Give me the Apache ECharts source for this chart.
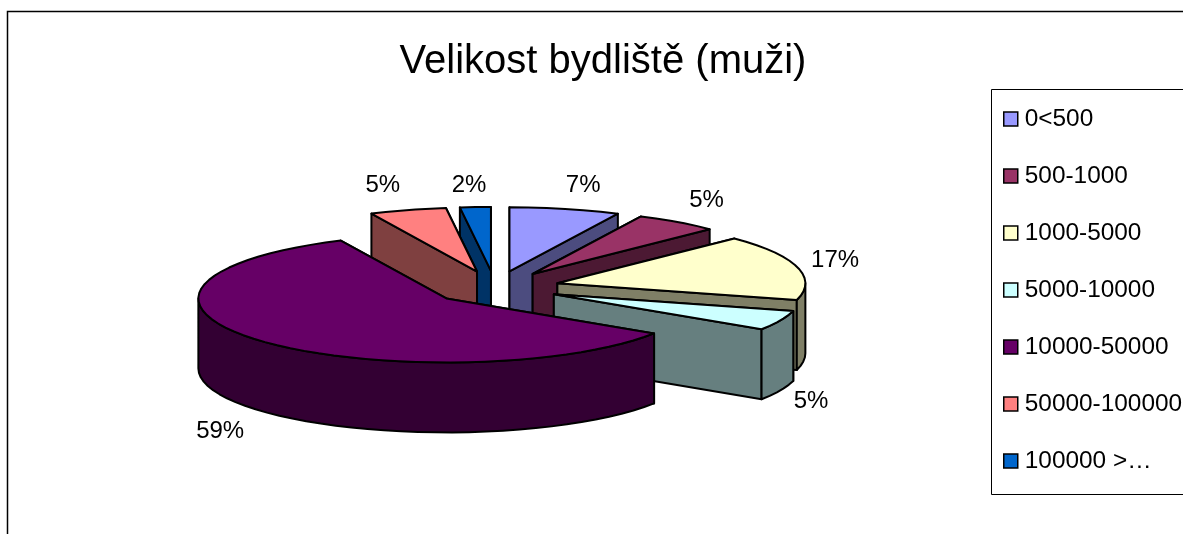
<!DOCTYPE html>
<html><head><meta charset="utf-8">
<style>html,body{margin:0;padding:0;background:#fff;overflow:hidden}#c{width:1183px;height:534px}</style>
<script src="https://cdn.jsdelivr.net/npm/echarts@6/dist/echarts.min.js"></script>
</head><body><div id="c"></div>
<script>
const categories = ['0<500','500-1000','1000-5000','5000-10000','10000-50000','50000-100000','100000 >…'];
const values = [7.2,5.45,16.55,5,58.8,5,2];
const topColors = ['#9999FF','#993366','#FFFFCC','#CCFFFF','#660066','#FF8080','#0066CC'];
const sideColors = ['#4C4C7F','#4C1933','#7F7F66','#667F7F','#330033','#7F4040','#003366'];
const titleText = 'Velikost bydliště (muži)';

const FONT = '"Liberation Sans", Arial, sans-serif';
const CX = 495, CY = 287.5, RX = 248, RY = 64, THICK = 70, EXPLODE = 0.26;
const LABEL_SHIFT = [[2,3],[0,0],[-5,0],[-10,0],[-4,3],[-7,1],[4,5]];
const total = values.reduce((a, b) => a + b, 0);
const starts = values.map((v, i) => values.slice(0, i).reduce((a, b) => a + b, 0));
const rad = d => d * Math.PI / 180;

function renderSlice(params, api) {
  const i = params.seriesIndex;
  const v = api.value(0);
  const a0 = starts[i] / total * 360, a1 = a0 + v / total * 360, mid = (a0 + a1) / 2;
  const ax = CX + EXPLODE * RX * Math.sin(rad(mid));
  const ay = CY - EXPLODE * RY * Math.cos(rad(mid));
  const pt = a => [ax + RX * Math.sin(rad(a)), ay - RY * Math.cos(rad(a))];
  const arc = (from, to) => {
    const out = [], n = Math.max(1, Math.round((to - from) / 4));
    for (let k = 0; k <= n; k++) out.push(pt(from + (to - from) * k / n));
    return out;
  };
  const down = p => [p[0], p[1] + THICK];
  const line = { stroke: '#000', lineWidth: 2, lineJoin: 'round' };
  const base = Math.round((-Math.cos(rad(mid)) + 1) * 100) * 10;
  const poly = (points, fill, z) => ({ type: 'polygon', z2: base + z, shape: { points }, style: Object.assign({ fill }, line), silent: true });
  const wall = a => [[ax, ay], pt(a), down(pt(a)), [ax, ay + THICK]];
  const pS = pt(a0), pE = pt(a1);
  const walls = pS[1] > pE[1] ? [a1, a0] : [a0, a1];
  const kids = [poly(wall(walls[0]), sideColors[i], 1), poly(wall(walls[1]), sideColors[i], 2)];
  const r0 = Math.max(a0, 90), r1 = Math.min(a1, 270);
  if (r1 > r0) {
    const rim = arc(r0, r1);
    kids.push(poly(rim.concat(rim.slice().reverse().map(down)), sideColors[i], 3));
  }
  kids.push(poly([[ax, ay]].concat(arc(a0, a1)), topColors[i], 4));
  const sn = Math.sin(rad(mid)), cs = Math.cos(rad(mid));
  const o = pt(mid);
  kids.push({
    type: 'text', z2: 9000, silent: true,
    style: {
      text: Math.round(v / total * 100) + '%',
      x: o[0] + 8 * Math.sign(sn) + 36 * sn + LABEL_SHIFT[i][0],
      y: o[1] - 27 * cs + (cs < 0 ? THICK : 0) + LABEL_SHIFT[i][1],
      fill: '#000', font: '24px ' + FONT, align: 'center', verticalAlign: 'middle'
    }
  });
  return { type: 'group', children: kids };
}

const chart = echarts.init(document.getElementById('c'), null, { renderer: 'canvas' });
chart.setOption({
  animation: false,
  backgroundColor: '#fff',
  color: topColors,
  title: {
    text: titleText, left: 603, top: 62, textAlign: 'center', textVerticalAlign: 'middle',
    padding: 0,
    textStyle: { fontFamily: FONT, fontSize: 40, fontWeight: 'normal', color: '#000' }
  },
  legend: {
    orient: 'vertical', left: 1003, top: 105, padding: 0,
    data: categories, icon: 'rect', itemWidth: 14, itemHeight: 14, itemGap: 29,
    selectedMode: false,
    itemStyle: { borderColor: '#000', borderWidth: 1.5 },
    textStyle: { fontFamily: FONT, fontSize: 24.4, color: '#000', lineHeight: 24, padding: [0, 0, 4, 2] }
  },
  graphic: [
    { type: 'rect', z: -10, silent: true, shape: { x: 7.5, y: 11.5, width: 1300, height: 700 }, style: { fill: 'none', stroke: '#000', lineWidth: 1.5 } },
    { type: 'rect', z: -10, silent: true, shape: { x: 991.5, y: 89.5, width: 400, height: 405 }, style: { fill: '#fff', stroke: '#000', lineWidth: 1 } }
  ],
  series: categories.map((name, i) => ({
    type: 'custom', name, coordinateSystem: 'none',
    itemStyle: { color: topColors[i] },
    renderItem: renderSlice,
    data: [[values[i]]]
  }))
});
</script></body></html>
